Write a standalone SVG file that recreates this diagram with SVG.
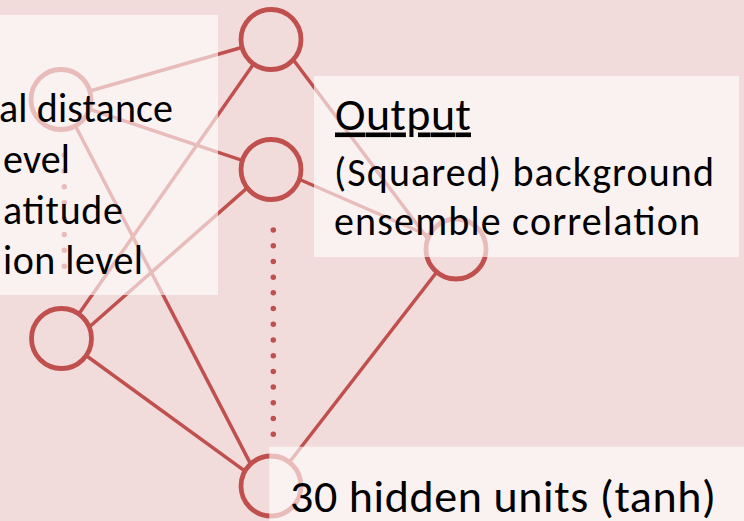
<svg xmlns="http://www.w3.org/2000/svg" width="744" height="521" viewBox="0 0 744 521">
<style>
.bg{fill:#F2DCDB}
.edge{stroke:#C0504D;stroke-width:3.5;fill:none;stroke-linecap:butt}
.node{fill:#F2DCDB;stroke:#C0504D;stroke-width:4.8}
.dots{stroke:#C0504D;stroke-width:5.5;stroke-linecap:round;fill:none}
.panel{fill:#FFFFFF;fill-opacity:0.62}
.t{font-family:Carlito,Lato,"Open Sans",sans-serif;fill:#000000}
.big{font-size:46px}
.mid{font-size:40px}
</style>
<rect class="bg" x="0" y="0" width="744" height="521"/>
<g id="connectors">
  <line class="edge" x1="62" y1="99" x2="271" y2="39"/>
  <line class="edge" x1="62" y1="100" x2="271" y2="170"/>
  <line class="edge" x1="62" y1="100" x2="262" y2="486"/>
  <line class="edge" x1="62" y1="338" x2="271" y2="39"/>
  <line class="edge" x1="62" y1="351" x2="271" y2="167"/>
  <line class="edge" x1="62" y1="338" x2="271" y2="490"/>
  <line class="edge" x1="271" y1="30" x2="440" y2="255"/>
  <line class="edge" x1="271" y1="167" x2="450" y2="245"/>
  <line class="edge" x1="271" y1="486" x2="450" y2="255"/>
</g>
<g id="input-dots">
  <path class="dots" d="M64.3 155 V282" stroke-dasharray="0 15.875"/>
</g>
<g id="hidden-dots">
  <path class="dots" d="M273.3 230 V434.3" stroke-dasharray="0 15.71"/>
</g>
<g id="input1"><circle class="node" cx="61" cy="99.5" r="30"/></g>
<g id="input2"><circle class="node" cx="61.5" cy="338.5" r="30"/></g>
<g id="hidden1"><circle class="node" cx="271" cy="39.5" r="30"/></g>
<g id="hidden2"><circle class="node" cx="271" cy="169.5" r="30"/></g>
<g id="hidden3"><circle class="node" cx="271" cy="486" r="30"/></g>
<g id="output"><circle class="node" cx="456" cy="249" r="30"/></g>
<g id="input-label">
  <rect class="panel" x="-10" y="15" width="228" height="280"/>
  <text class="t mid" x="-1" y="122" textLength="174">al distance</text>
  <text class="t mid" x="3" y="172.5" textLength="67">evel</text>
  <text class="t mid" x="3" y="224" textLength="120">atitude</text>
  <text class="t mid" x="3" y="273.5" textLength="140">ion level</text>
</g>
<g id="output-label">
  <rect class="panel" x="314" y="76" width="425" height="181"/>
  <text class="t big" x="335" y="129.5" textLength="136" text-decoration="underline">Output</text>
  <text class="t mid" x="334" y="186" textLength="380">(Squared) background</text>
  <text class="t mid" x="334" y="235" textLength="366">ensemble correlation</text>
</g>
<g id="hidden-label">
  <rect class="panel" x="269.3" y="446.7" width="480" height="80"/>
  <text class="t big" x="290" y="512" textLength="426">30 hidden units (tanh)</text>
</g>
</svg>
